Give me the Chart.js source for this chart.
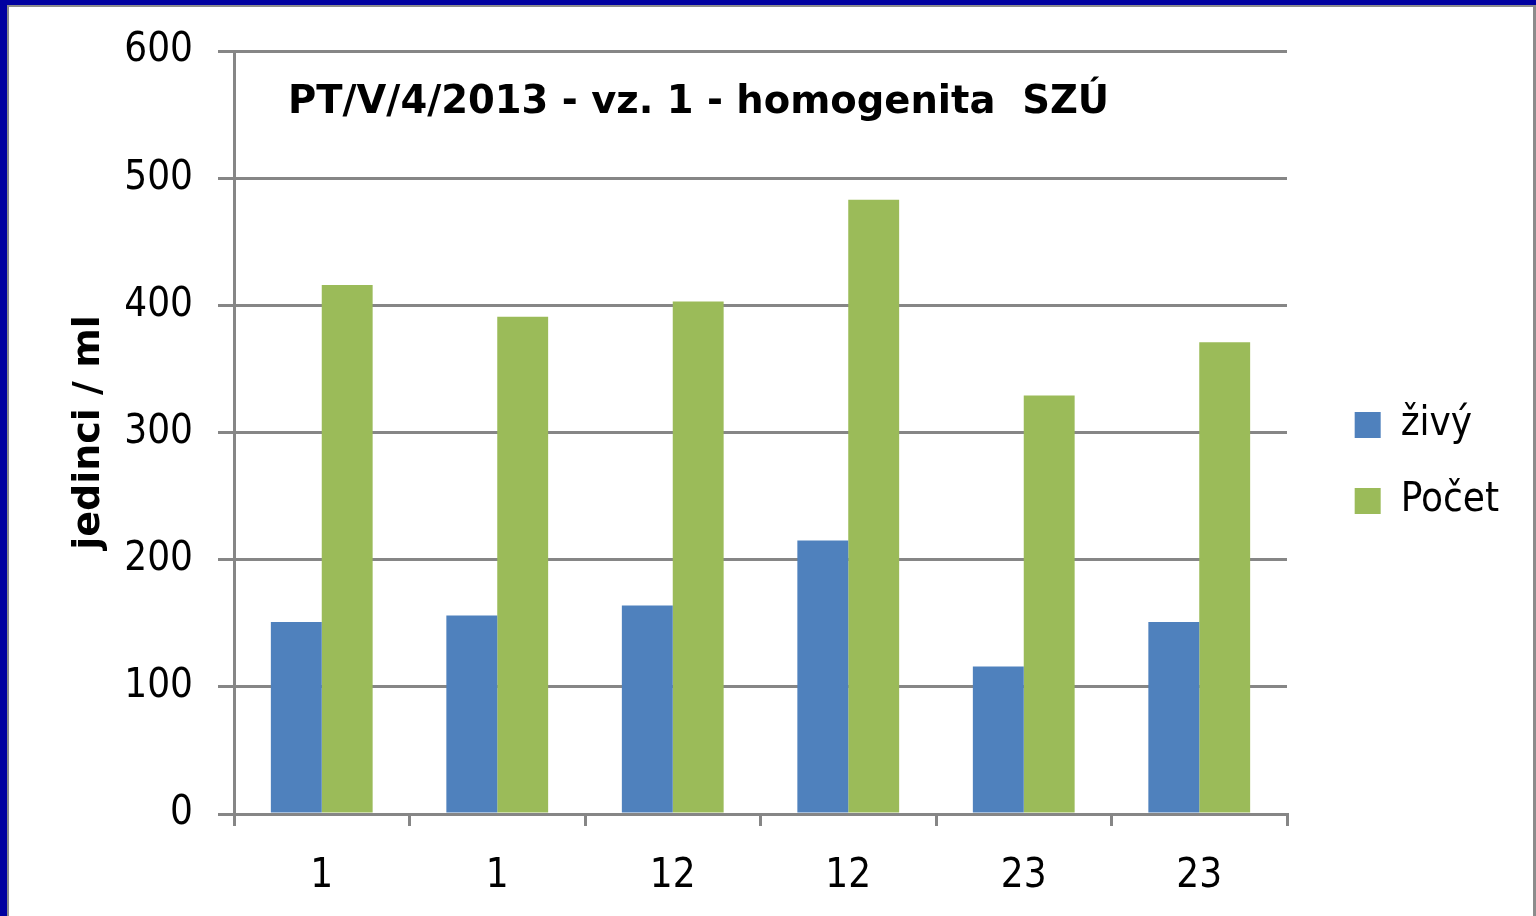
<!DOCTYPE html>
<html>
<head>
<meta charset="utf-8">
<script src="https://cdn.jsdelivr.net/npm/chart.js@4"></script>
<style>
  body { margin: 0; background: #0000a0; overflow: hidden; }
  #frame {
    position: absolute; left: 7px; top: 5px; width: 1524px; height: 920px;
    border-left: 2px solid #8c8c8c; border-top: 2px solid #8c8c8c; border-right: 3px solid #8c8c8c;
    background: #fff;
  }
  #chart { position: absolute; left: 0; top: 0; }
</style>
</head>
<body>
<div id="frame"></div>
<canvas id="chart" width="1536" height="916"></canvas>
<script>
// Data
const labels = ["1", "1", "12", "12", "23", "23"];
const zivy = [151, 156, 164, 215, 116, 151];
const pocet = [416, 391, 403, 483, 329, 371];
const seriesNames = ["živý", "Počet"];
const chartTitle = "PT/V/4/2013 - vz. 1 - homogenita  SZÚ";
const yTitle = "jedinci / ml";

const FONT = "'DejaVu Sans Condensed', 'DejaVu Sans', sans-serif";
const BOLD_FONT = "'DejaVu Sans', sans-serif";
const GRID = "#868686";

// title sits inside the plot area, so draw it from a small plugin
const insideTitle = {
  id: "insideTitle",
  afterDraw(chart) {
    const ctx = chart.ctx;
    ctx.save();
    ctx.font = "bold 38.5px " + BOLD_FONT;
    ctx.fillStyle = "#000";
    ctx.textBaseline = "alphabetic";
    ctx.fillText(chartTitle, 288, 113);
    ctx.restore();
  },
};

const data = {
  labels: labels,
  datasets: [
    {
      label: seriesNames[0],
      data: zivy,
      backgroundColor: "#4f81bd",
      borderWidth: 0,
      categoryPercentage: 0.58,
      barPercentage: 1,
    },
    {
      label: seriesNames[1],
      data: pocet,
      backgroundColor: "#9bbb59",
      borderWidth: 0,
      categoryPercentage: 0.58,
      barPercentage: 1,
    },
  ],
};

const config = {
  type: "bar",
  data: data,
  options: {
    responsive: false,
    devicePixelRatio: 1,
    animation: false,
    layout: { padding: { top: 51, left: 0, right: 27, bottom: 0 } },
    plugins: {
      tooltip: { enabled: false },
      legend: {
        position: "right",
        align: "start",
        // blank title is only a spacer that pushes the items down
        title: { display: true, text: " ", font: { size: 10 }, padding: { top: 0, bottom: 306 } },
        labels: {
          boxWidth: 26,
          boxHeight: 26,
          padding: 36,
          color: "#000",
          font: { family: FONT, size: 40 },
        },
      },
    },
    scales: {
      x: {
        grid: { offset: true, drawOnChartArea: false, color: GRID, lineWidth: 3, tickLength: 12 },
        border: { color: GRID, width: 3 },
        ticks: { color: "#000", padding: 27, font: { family: FONT, size: 40 } },
        afterFit: (s) => { s.height = 102; },
      },
      y: {
        min: 0,
        max: 600,
        ticks: { stepSize: 100, color: "#000", padding: 25, font: { family: FONT, size: 40 } },
        grid: { color: GRID, lineWidth: 3, tickLength: 16 },
        border: { color: GRID, width: 3 },
        title: {
          display: true,
          text: yTitle,
          color: "#000",
          font: { family: BOLD_FONT, size: 38, weight: "bold" },
          padding: { top: 66, bottom: 0 },
        },
        afterFit: (s) => { s.width = 234; },
      },
      gap: {
        type: "linear",
        position: "right",
        display: true,
        grid: { display: false },
        ticks: { display: false },
        border: { display: false },
        afterFit: (s) => {
          const lw = s.chart.legend && isFinite(s.chart.legend.width) ? s.chart.legend.width : 0;
          s.width = Math.max(0, 1536 - 27 - 1287 - lw);
        },
      },
    },
  },
  plugins: [insideTitle],
};

new Chart(document.getElementById("chart"), config);
</script>
</body>
</html>
